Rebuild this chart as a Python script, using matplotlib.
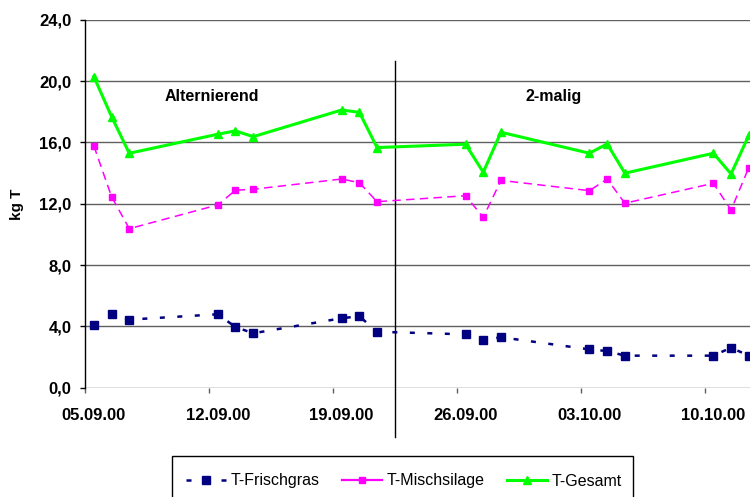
import matplotlib.pyplot as plt
import matplotlib.patches as mpatches
from matplotlib.lines import Line2D
import pandas as pd

plt.rcParams['font.family'] = ['Liberation Sans', 'DejaVu Sans']

dates = ["05.09.00", "06.09.00", "07.09.00", "12.09.00", "13.09.00", "14.09.00",
         "19.09.00", "20.09.00", "21.09.00", "26.09.00", "27.09.00", "28.09.00",
         "03.10.00", "04.10.00", "05.10.00", "10.10.00", "11.10.00", "12.10.00"]
frisch = [4.07, 4.79, 4.44, 4.79, 3.96, 3.55, 4.53, 4.66, 3.65,
          3.48, 3.11, 3.29, 2.50, 2.39, 2.09, 2.09, 2.61, 2.09]
misch = [15.77, 12.46, 10.37, 11.92, 12.88, 12.94, 13.61, 13.37, 12.13,
         12.52, 11.11, 13.52, 12.85, 13.61, 12.03, 13.33, 11.59, 14.35]
gesamt = [20.29, 17.68, 15.29, 16.53, 16.75, 16.37, 18.11, 17.96, 15.66,
          15.88, 14.05, 16.66, 15.29, 15.90, 13.99, 15.29, 13.94, 16.45]
tick_dates = ["05.09.00", "12.09.00", "19.09.00", "26.09.00", "03.10.00", "10.10.00"]
split_date = "22.09.00"
phases = ["Alternierend", "2-malig"]

d = pd.to_datetime(dates, format="%d.%m.%y")
d0 = d[0]
x = [(v - d0).days + 0.5 for v in d]
tk = [(v - d0).days for v in pd.to_datetime(tick_dates, format="%d.%m.%y")]
xs = (pd.to_datetime(split_date, format="%d.%m.%y") - d0).days + 0.5

fig = plt.figure(figsize=(7.5, 4.97), dpi=100)
ax = fig.add_axes([85 / 750, 0.2199, 1 - 85 / 750, 0.7405])

ax.set_xlim(0, 37.57)
ax.set_ylim(0, 24)

# gridlines
for yv in range(0, 25, 4):
    ax.axhline(yv, color='#606060', lw=1.0, zorder=1)

# phase separator
ax.plot([xs, xs], [21.3, -3.2], color='black', lw=1.0, clip_on=False, zorder=2)

l1, = ax.plot(x, frisch, color='#000080', lw=1.8, dashes=(2, 5), marker='s',
              markersize=6.2, clip_on=False, zorder=4, label='T-Frischgras')
l2, = ax.plot(x, misch, color='#FF00FF', lw=1.1, dashes=(5.5, 3.5), marker='s',
              markersize=5, clip_on=False, zorder=4, label='T-Mischsilage')
l3, = ax.plot(x, gesamt, color='#00FF00', lw=2.2, marker='^',
              markersize=6, clip_on=False, zorder=4, label='T-Gesamt')

ax.text(4.52, 18.96, phases[0], fontsize=11.5, fontweight='bold', va='center')
ax.text(24.86, 18.96, phases[1], fontsize=11.5, fontweight='bold', va='center')

for s in ['top', 'right', 'bottom']:
    ax.spines[s].set_visible(False)
ax.spines['left'].set_color('black')
ax.spines['left'].set_linewidth(1.0)

ax.set_yticks(range(0, 25, 4))
ax.set_yticklabels([f"{v:.1f}".replace('.', ',') for v in range(0, 25, 4)],
                   fontsize=12, fontweight='bold')
ax.tick_params(axis='y', length=3.6, width=1, pad=6, color='black')

ax.set_xticks(tk)
ax.set_xticklabels([])
ax.tick_params(axis='x', which='major', length=3.6, width=1, color='#606060')
ax.set_xticks([t + 0.5 for t in tk], minor=True)
ax.set_xticklabels(tick_dates, minor=True, fontsize=12, fontweight='bold')
ax.tick_params(axis='x', which='minor', length=0, pad=14.5)

fig.text(17 / 750, 1 - 204 / 497, "kg T", rotation=90, fontsize=11,
         fontweight='bold', ha='center', va='center')

# legend box
fig.patches.append(mpatches.Rectangle((172 / 750, -0.05), (633 - 172) / 750,
                                      1 - 456 / 497 + 0.05, transform=fig.transFigure,
                                      facecolor='white', edgecolor='black', lw=1.0))
h2 = Line2D([], [], color='#FF00FF', lw=1.6, marker='s', markersize=5)
fig.legend(handles=[l1, h2, l3], labels=[l1.get_label(), l2.get_label(), l3.get_label()],
           loc='center left',
           bbox_to_anchor=(178 / 750, 1 - 481 / 497), ncol=3, frameon=False,
           fontsize=11.5, handlelength=2.5, handletextpad=0.3, columnspacing=1.4,
           borderpad=0)

fig.savefig("out.png", dpi=100)
